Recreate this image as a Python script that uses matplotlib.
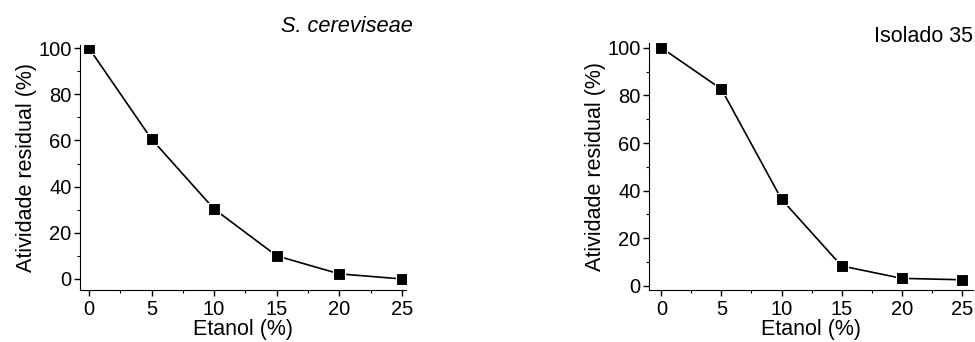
import matplotlib
matplotlib.use("Agg")
import matplotlib.pyplot as plt
from matplotlib.ticker import MultipleLocator

plt.rcParams['font.family'] = ['Liberation Sans', 'DejaVu Sans']

etanol = [0, 5, 10, 15, 20, 25]
cerevisiae = [100, 60.6, 30.3, 10.0, 2.2, 0.0]
isolado35 = [100, 82.6, 36.4, 8.4, 3.2, 2.6]


def style_axes(ax, ylim, xlim):
    ax.spines['top'].set_visible(False)
    ax.spines['right'].set_visible(False)
    ax.set_xlim(*xlim)
    ax.set_ylim(*ylim)
    ax.xaxis.set_major_locator(MultipleLocator(5))
    ax.xaxis.set_minor_locator(MultipleLocator(2.5))
    ax.yaxis.set_major_locator(MultipleLocator(20))
    ax.yaxis.set_minor_locator(MultipleLocator(10))
    ax.tick_params(which='major', direction='out', length=4, width=1, labelsize=14.5)
    ax.tick_params(axis='x', which='major', pad=3.5)
    ax.tick_params(axis='y', which='major', pad=2)
    ax.tick_params(which='minor', direction='out', length=2.5, width=0.8)
    ax.set_xlabel("Etanol (%)", fontsize=15.5, labelpad=0)
    ax.set_ylabel("Atividade residual (%)", fontsize=15.5, labelpad=1)


fig = plt.figure(figsize=(9.75, 3.42), dpi=100)

ax1 = fig.add_axes([0.082, 0.152, 0.334, 0.716])
ax1.plot(etanol, cerevisiae, color='black', lw=1.2, marker='s', ms=8,
         mfc='black', mec='white', mew=0.8)
style_axes(ax1, (-4.8, 101.3), (-0.72, 25.3))

ax2 = fig.add_axes([0.6656, 0.152, 0.332, 0.721])
ax2.plot(etanol, isolado35, color='black', lw=1.2, marker='s', ms=8,
         mfc='black', mec='white', mew=0.8)
style_axes(ax2, (-1.7, 101.8), (-1.03, 25.9))

fig.text(413 / 975, 1 - 26 / 342, "S. cereviseae", style='italic', fontsize=15.7,
         ha='right', va='center')
fig.text(973 / 975, 1 - 37 / 342, "Isolado 35", fontsize=15.5, ha='right', va='center')

fig.savefig("out.png", dpi=100)
